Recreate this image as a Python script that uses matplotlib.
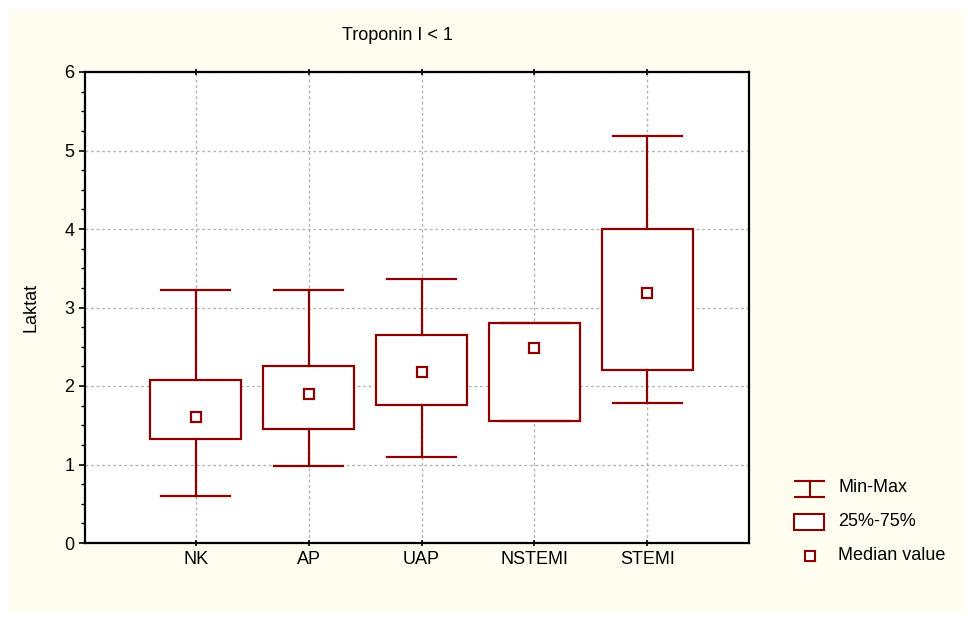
import matplotlib
matplotlib.use("Agg")
import matplotlib.pyplot as plt
from matplotlib.lines import Line2D
from matplotlib.patches import Rectangle

plt.rcParams['font.family'] = ['Liberation Sans', 'DejaVu Sans']

categories = ['NK', 'AP', 'UAP', 'NSTEMI', 'STEMI']
mins = [0.60, 0.98, 1.10, 1.55, 1.78]
q1 = [1.33, 1.45, 1.76, 1.55, 2.20]
medians = [1.60, 1.90, 2.18, 2.48, 3.18]
q3 = [2.08, 2.26, 2.65, 2.80, 4.00]
maxs = [3.22, 3.22, 3.36, 2.80, 5.19]

red = '#8B0000'
bg = '#FFFCF0'
fs = 13

fig = plt.figure(figsize=(9.73, 6.2), dpi=100)
fig.patch.set_facecolor('white')
fig.add_artist(Rectangle((8 / 973, 8 / 620), 957 / 973, 602 / 620,
                         transform=fig.transFigure, facecolor=bg,
                         edgecolor='none', zorder=-10))

ax = fig.add_axes([85 / 973, 1 - 543 / 620, (749 - 85) / 973, (543 - 72) / 620])
ax.set_facecolor('white')

x = list(range(1, len(categories) + 1))
stats = []
for i, c in enumerate(categories):
    stats.append(dict(label=c, whislo=mins[i], q1=q1[i], med=medians[i],
                      q3=q3[i], whishi=maxs[i], fliers=[]))

ax.bxp(stats, positions=x, widths=0.8, capwidths=0.61, patch_artist=True,
       showfliers=False,
       boxprops=dict(facecolor='white', edgecolor=red, linewidth=1.6),
       whiskerprops=dict(color=red, linewidth=1.6),
       capprops=dict(color=red, linewidth=1.6),
       medianprops=dict(linestyle='none'), zorder=3)
ax.plot(x, medians, 's', markersize=7, markerfacecolor='white',
        markeredgecolor=red, markeredgewidth=1.6, linestyle='none', zorder=4)

ax.set_xlim(0.02, 5.9)
ax.set_ylim(0, 6)
ax.set_yticks(range(0, 7))
ax.set_yticks([i * 0.25 for i in range(25)], minor=True)
ax.set_xticks(x)
ax.set_xticklabels(categories)
ax.grid(True, which='major', linestyle=(0, (2, 2)), color='#b4b4b4', linewidth=1, zorder=0)
ax.set_axisbelow(True)
ax.tick_params(axis='both', which='major', labelsize=fs, length=4, width=1.2, direction='out')
ax.tick_params(axis='y', which='minor', length=3, width=1, direction='out')
ax.tick_params(axis='x', which='major', top=True, length=4, direction='inout')
for s in ax.spines.values():
    s.set_linewidth(1.6)
ax.set_ylabel('Laktat', fontsize=fs, labelpad=18)

fig.text(397 / 973, 1 - 35 / 620, 'Troponin I < 1', ha='center', va='center', fontsize=fs)

# legend drawn in figure coordinates
def fx(px):
    return px / 973

def fy(py):
    return 1 - py / 620

tr = fig.transFigure
fig.add_artist(Line2D([fx(795), fx(824)], [fy(481), fy(481)], color=red, lw=1.5, transform=tr))
fig.add_artist(Line2D([fx(795), fx(824)], [fy(497), fy(497)], color=red, lw=1.5, transform=tr))
fig.add_artist(Line2D([fx(809.5), fx(809.5)], [fy(481), fy(497)], color=red, lw=1.5, transform=tr))
fig.text(fx(838), fy(488), 'Min-Max', ha='left', va='center', fontsize=fs)
fig.add_artist(Rectangle((fx(794), fy(530)), fx(824) - fx(794), fy(514) - fy(530),
                         facecolor='white', edgecolor=red, lw=1.5, transform=tr))
fig.text(fx(838), fy(522), '25%-75%', ha='left', va='center', fontsize=fs)
fig.add_artist(Line2D([fx(809.5)], [fy(556)], marker='s', markersize=7,
                      markerfacecolor='white', markeredgecolor=red,
                      markeredgewidth=1.5, transform=tr))
fig.text(fx(838), fy(556), 'Median value', ha='left', va='center', fontsize=fs)

fig.savefig('out.png', dpi=100, facecolor=fig.get_facecolor())
